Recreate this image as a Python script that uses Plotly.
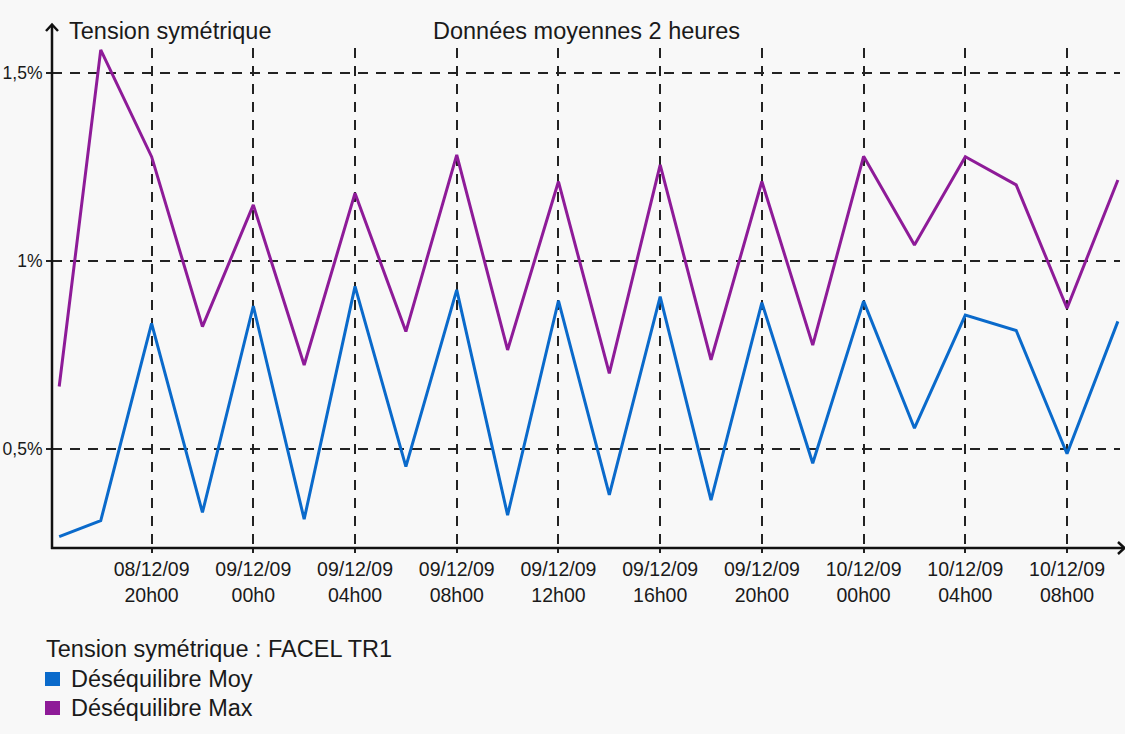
import plotly.graph_objects as go

# ---- data ----
times = [
    "2009-12-08 16:22", "2009-12-08 18:00", "2009-12-08 20:00", "2009-12-08 22:00",
    "2009-12-09 00:00", "2009-12-09 02:00", "2009-12-09 04:00", "2009-12-09 06:00",
    "2009-12-09 08:00", "2009-12-09 10:00", "2009-12-09 12:00", "2009-12-09 14:00",
    "2009-12-09 16:00", "2009-12-09 18:00", "2009-12-09 20:00", "2009-12-09 22:00",
    "2009-12-10 00:00", "2009-12-10 02:00", "2009-12-10 04:00", "2009-12-10 06:00",
    "2009-12-10 08:00", "2009-12-10 10:00",
]
desequilibre_moy = [0.268, 0.310, 0.835, 0.332, 0.881, 0.314, 0.933, 0.454, 0.924, 0.325, 0.895,
                    0.379, 0.906, 0.365, 0.890, 0.463, 0.894, 0.556, 0.857, 0.816, 0.488, 0.840]
desequilibre_max = [0.667, 1.562, 1.278, 0.826, 1.150, 0.724, 1.181, 0.813, 1.283, 0.764, 1.212,
                    0.702, 1.256, 0.738, 1.212, 0.777, 1.279, 1.043, 1.278, 1.203, 0.875, 1.216]

x_tickvals = ["2009-12-08 20:00", "2009-12-09 00:00", "2009-12-09 04:00", "2009-12-09 08:00",
              "2009-12-09 12:00", "2009-12-09 16:00", "2009-12-09 20:00", "2009-12-10 00:00",
              "2009-12-10 04:00", "2009-12-10 08:00"]
x_ticktext = ["08/12/09<br>20h00", "09/12/09<br>00h0", "09/12/09<br>04h00", "09/12/09<br>08h00",
              "09/12/09<br>12h00", "09/12/09<br>16h00", "09/12/09<br>20h00", "10/12/09<br>00h00",
              "10/12/09<br>04h00", "10/12/09<br>08h00"]
y_tickvals = [0.5, 1.0, 1.5]
y_ticktext = ["0,5%", "1%", "1,5%"]

series_names = ["Déséquilibre Moy", "Déséquilibre Max"]
series_colors = ["#0A6ACB", "#8E1B98"]

# ---- layout geometry (pixels) ----
W, H = 1125, 734
L, R, T, B = 52, 1120, 48, 548


def px(x):
    return (x - L) / (R - L)


def py(y):
    return (B - y) / (B - T)


BG = "#f8f8f8"
TXT = "#1a1a1a"
FONT = "Liberation Sans, Arial, sans-serif"

fig = go.Figure()
for name, vals, col in [(series_names[0], desequilibre_moy, series_colors[0]),
                        (series_names[1], desequilibre_max, series_colors[1])]:
    fig.add_trace(go.Scatter(x=times, y=vals, mode="lines", name=name,
                             line=dict(color=col, width=3), showlegend=False))

fig.update_layout(
    width=W, height=H,
    margin=dict(l=L, r=W - R, t=T, b=H - B, pad=0, autoexpand=False),
    paper_bgcolor=BG, plot_bgcolor=BG,
    font=dict(family=FONT, color=TXT, size=22),
    xaxis=dict(
        range=["2009-12-08 16:05", "2009-12-10 10:05"],
        tickmode="array", tickvals=x_tickvals, ticktext=x_ticktext,
        tickfont=dict(family=FONT, size=19.5, color=TXT),
        showgrid=True, gridcolor="#222222", gridwidth=1.5, griddash="10px,8px",
        ticks="outside", ticklen=4, tickwidth=1.5, tickcolor="#222222",
        showline=False, zeroline=False, automargin=False,
    ),
    yaxis=dict(
        range=[0.2375, 1.567],
        tickmode="array", tickvals=y_tickvals, ticktext=y_ticktext,
        tickfont=dict(family=FONT, size=17.5, color=TXT),
        showgrid=True, gridcolor="#222222", gridwidth=1.5, griddash="10px,8px",
        ticks="outside", ticklen=5, tickwidth=1.5, tickcolor="#222222",
        showline=False, zeroline=False, automargin=False,
    ),
)

shapes = []
# axis lines with arrows
shapes.append(dict(type="line", xref="paper", yref="paper", x0=px(52), x1=px(52), y0=py(549), y1=py(25),
                   line=dict(color="#111111", width=2.5)))
shapes.append(dict(type="line", xref="paper", yref="paper", x0=px(51), x1=px(1123), y0=py(548), y1=py(548),
                   line=dict(color="#111111", width=2.5)))
shapes.append(dict(type="path", xref="paper", yref="paper",
                   path=f"M {px(46)},{py(31)} L {px(52)},{py(24.5)} L {px(58)},{py(31)}",
                   line=dict(color="#111111", width=2.5)))
shapes.append(dict(type="path", xref="paper", yref="paper",
                   path=f"M {px(1118)},{py(542)} L {px(1124.5)},{py(548)} L {px(1118)},{py(554)}",
                   line=dict(color="#111111", width=2.5)))
# legend squares
shapes.append(dict(type="rect", xref="paper", yref="paper", x0=px(45), x1=px(60), y0=py(672), y1=py(686),
                   fillcolor=series_colors[0], line=dict(width=0)))
shapes.append(dict(type="rect", xref="paper", yref="paper", x0=px(45), x1=px(60), y0=py(701), y1=py(715),
                   fillcolor=series_colors[1], line=dict(width=0)))
fig.update_layout(shapes=shapes)

ann = [
    dict(text="Tension symétrique", x=px(67), y=py(31), xanchor="left", yanchor="middle"),
    dict(text="Données moyennes 2 heures", x=px(586), y=py(31), xanchor="center", yanchor="middle"),
    dict(text="Tension symétrique : FACEL TR1", x=px(44), y=py(649), xanchor="left", yanchor="middle"),
    dict(text=series_names[0], x=px(69), y=py(679), xanchor="left", yanchor="middle"),
    dict(text=series_names[1], x=px(69), y=py(708), xanchor="left", yanchor="middle"),
]
for a in ann:
    a.update(xref="paper", yref="paper", showarrow=False, font=dict(family=FONT, size=23.5, color=TXT))
fig.update_layout(annotations=ann)

fig.write_html("out.html")
